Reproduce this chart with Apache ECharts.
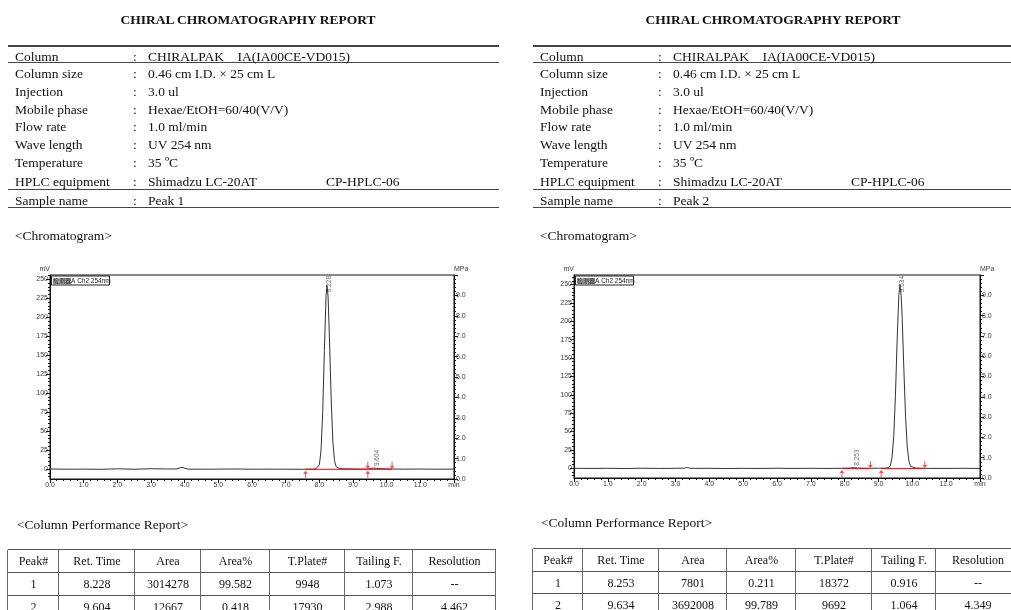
<!DOCTYPE html>
<html><head><meta charset="utf-8">
<script src="https://cdn.jsdelivr.net/npm/echarts@6.0.0/dist/echarts.min.js"></script>
<style>
html,body{margin:0;padding:0;background:#fff;}
#page{position:relative;width:1011px;height:610px;overflow:hidden;font-family:"Liberation Serif","Times New Roman",serif;color:#111;}
#chart{position:absolute;left:0;top:0;width:1011px;height:610px;}
.t{position:absolute;white-space:pre;font-size:13.5px;line-height:16px;}
.title{font-weight:bold;transform:translateX(-50%);}
.hl{position:absolute;height:0;border-top:1.5px solid #444;}
.vl{position:absolute;width:0;border-left:1.5px solid #666;}
.cell{position:absolute;display:flex;align-items:center;justify-content:center;font-size:12px;white-space:pre;}
</style>
</head><body>
<div id="page"><div id="chart"></div></div>
<script>
// ---------- text / table data ----------
const reportTitle = "CHIRAL CHROMATOGRAPHY REPORT";
const infoLabels = ["Column","Column size","Injection","Mobile phase","Flow rate","Wave length","Temperature","HPLC equipment","Sample name"];
const infoValuesLeft = ["CHIRALPAK    IA(IA00CE-VD015)","0.46 cm I.D. \u00d7 25 cm L","3.0 ul","Hexae/EtOH=60/40(V/V)","1.0 ml/min","UV 254 nm","35 \u00baC","Shimadzu LC-20AT","Peak 1"];
const infoValuesRight = ["CHIRALPAK    IA(IA00CE-VD015)","0.46 cm I.D. \u00d7 25 cm L","3.0 ul","Hexae/EtOH=60/40(V/V)","1.0 ml/min","UV 254 nm","35 \u00baC","Shimadzu LC-20AT","Peak 2"];
const equipmentId = "CP-HPLC-06";
const perfHeaders = ["Peak#","Ret. Time","Area","Area%","T.Plate#","Tailing F.","Resolution"];
const perfLeft = [["1","8.228","3014278","99.582","9948","1.073","--"],["2","9.604","12667","0.418","17930","2.988","4.462"]];
const perfRight = [["1","8.253","7801","0.211","18372","0.916","--"],["2","9.634","3692008","99.789","9692","1.064","4.349"]];

// ---------- chromatogram data ----------
const timeTickLabels = ["0.0","1.0","2.0","3.0","4.0","5.0","6.0","7.0","8.0","9.0","10.0","11.0","min"];
const mvTickValues = [0,25,50,75,100,125,150,175,200,225,250];
const mpaTickLabels = ["0.0","1.0","2.0","3.0","4.0","5.0","6.0","7.0","8.0","9.0",""];
const detectorLabel = "A Ch2 254nm";
const detectorPrefix = "检测器";

const traceLeft = [[0,0],[0.5,-0.3],[1.0,-0.2],[1.5,-0.4],[2.0,0.2],[2.5,-0.3],[3.0,0.3],[3.5,0.0],[3.75,0.1],[3.85,1.2],[3.92,2.2],[4.0,1.0],[4.1,-0.2],[4.5,-0.3],[5.0,-0.2],[5.5,0.0],[6.0,-0.3],[6.5,-0.2],[7.0,-0.3],[7.5,-0.4],[7.8,-0.3],[7.9,0.3],[7.95,1.5],[8.0,5.5],[8.05,24],[8.1,74],[8.15,156],[8.2,229],[8.228,242],[8.26,227],[8.3,174],[8.35,95],[8.4,37],[8.45,11],[8.5,3],[8.55,1.2],[8.6,0.6],[8.7,0.3],[8.8,0.1],[9.0,0.0],[9.4,-0.2],[9.5,0.3],[9.55,0.8],[9.604,1.2],[9.65,1.0],[9.7,0.75],[9.8,0.45],[9.9,0.25],[10.0,0.1],[10.5,-0.2],[11.0,-0.1],[11.5,-0.3],[12.0,-0.2]];
const traceRight = [[0,0],[0.5,-0.2],[1.0,0.0],[1.5,-0.3],[2.0,0.1],[2.5,-0.2],[3.0,0.0],[3.25,0.2],[3.33,1.0],[3.42,0.2],[3.6,-0.1],[4.0,0.0],[4.5,-0.3],[5.0,-0.1],[5.5,-0.2],[6.0,0.1],[6.5,-0.2],[7.0,0.0],[7.5,-0.2],[7.9,0.0],[8.15,0.3],[8.2,0.6],[8.253,0.85],[8.3,0.6],[8.4,0.3],[8.6,0.1],[8.8,0.0],[9.0,0.1],[9.2,0.2],[9.3,0.9],[9.35,3.7],[9.4,14.5],[9.45,43],[9.5,98],[9.55,173],[9.6,235],[9.634,250],[9.67,235],[9.7,204],[9.75,134],[9.8,70],[9.85,29],[9.9,9.5],[9.95,2.5],[10.0,0.9],[10.1,0.3],[10.3,0.1],[10.5,-0.1],[11.0,-0.2],[11.5,0.0],[12.0,-0.2]];

const peakRtLeft = [8.228, 9.604];
const peakHeightLeft = [242, 1.2];
const peakRtRight = [8.253, 9.634];
const peakHeightRight = [0.85, 250];

const integStartLeft = [7.59, 9.44];
const integEndLeft = [9.44, 10.16];
const integStartRight = [7.92, 9.08];
const integEndRight = [8.76, 10.37];

// ---------- build HTML text ----------
const page = document.getElementById('page');
function addDiv(cls, css, text){
  const d = document.createElement('div');
  d.className = cls; Object.assign(d.style, css);
  if (text !== undefined) d.textContent = text;
  page.appendChild(d); return d;
}
const rowY = [56.5,74.3,91.7,109.7,127,145,163,181.7,200.5];
const panelsHtml = [
  {off:0, values:infoValuesLeft, perf:perfLeft, cols:[8,59,135,201,270,345,413,496], rows:[550,573,596,619], ptX:17, ptY:525},
  {off:525, values:infoValuesRight, perf:perfRight, cols:[533,583,659,727,796,872,936,1020], rows:[549,572,594,616], ptX:541, ptY:523}
];
panelsHtml.forEach(p => {
  addDiv('t title', {left:(248+p.off)+'px', top:(20-8.5)+'px'}, reportTitle);
  [46,63,190,208].forEach((y,k) => addDiv('hl', {left:(8+p.off)+'px', top:(y-0.75)+'px', width:'491px', borderTopWidth:(k===0?'2px':'1.5px')}));
  infoLabels.forEach((lab,i) => {
    addDiv('t', {left:(15+p.off)+'px', top:(rowY[i]-8)+'px'}, lab);
    addDiv('t', {left:(133+p.off)+'px', top:(rowY[i]-8)+'px'}, ':');
    addDiv('t', {left:(148+p.off)+'px', top:(rowY[i]-8)+'px'}, p.values[i]);
  });
  addDiv('t', {left:(326+p.off)+'px', top:(rowY[7]-8)+'px'}, equipmentId);
  addDiv('t', {left:(15+p.off)+'px', top:(236-8)+'px'}, '<Chromatogram>');
  addDiv('t', {left:p.ptX+'px', top:(p.ptY-8)+'px'}, '<Column Performance Report>');
  // performance table
  const c = p.cols, r = p.rows;
  r.forEach(y => addDiv('hl', {left:c[0]+'px', top:(y-0.75)+'px', width:(c[c.length-1]-c[0])+'px', borderTopColor:'#555'}));
  c.forEach(x => addDiv('vl', {left:(x-0.75)+'px', top:r[0]+'px', height:(r[r.length-1]-r[0])+'px'}));
  const allRows = [perfHeaders].concat(p.perf);
  allRows.forEach((row,ri) => row.forEach((txt,ci) => {
    addDiv('cell', {left:c[ci]+'px', top:r[ri]+'px', width:(c[ci+1]-c[ci])+'px', height:(r[ri+1]-r[ri])+'px'}, txt);
  }));
});

// ---------- chart ----------
const chart = echarts.init(document.getElementById('chart'));
const axisColor = '#111', labColor = '#3a3a3a', sans = 'Liberation Sans';
const grids = [
  {left:50, top:275, width:404, height:204},
  {left:574, top:275, width:406, height:203}
];
const yRanges = [[-13.2,255.7],[-13.2,263]];
const traces = [traceLeft, traceRight];
const peakRts = [peakRtLeft, peakRtRight];
const peakHs = [peakHeightLeft, peakHeightRight];
const iStarts = [integStartLeft, integStartRight];
const iEnds = [integEndLeft, integEndRight];
const mvMinor = [];
for (let v = -10; v <= 260; v += 5) if (v % 25 !== 0) mvMinor.push(v);

const option = {animation:false, backgroundColor:'#fff', grid:[], xAxis:[], yAxis:[], series:[], graphic:[]};
const upArrow = 'path://M5,0 L10,6 L6,6 L6,14 L4,14 L4,6 L0,6 Z';
const downArrow = 'path://M4,0 L6,0 L6,8 L10,8 L5,14 L0,8 L4,8 Z';
grids.forEach((g,i) => {
  option.grid.push(Object.assign({show:true, borderColor:axisColor, borderWidth:1, backgroundColor:'transparent', outerBoundsMode:'none', containLabel:false}, g));
  option.xAxis.push({gridIndex:i, type:'value', min:0, max:12, interval:1, position:'bottom',
    axisLine:{show:true, onZero:false, lineStyle:{color:axisColor, width:1}},
    axisTick:{show:true, length:4, lineStyle:{color:axisColor}},
    minorTick:{show:true, splitNumber:5, length:2, lineStyle:{color:axisColor}},
    axisLabel:{show:true, fontSize:7, color:labColor, fontFamily:sans, margin:3, showMaxLabel:true, showMinLabel:true,
      formatter: v => timeTickLabels[Math.round(v)]},
    splitLine:{show:false}, minorSplitLine:{show:false}});
  const [ymin, ymax] = yRanges[i];
  option.yAxis.push({gridIndex:i, type:'value', min:ymin, max:ymax, position:'left',
    name:'mV', nameLocation:'end', nameGap:2, nameTextStyle:{fontSize:7, color:labColor, fontFamily:sans, align:'right', verticalAlign:'bottom'},
    axisLine:{show:true, onZero:false, lineStyle:{color:axisColor}},
    axisTick:{show:true, length:4, customValues:mvTickValues, lineStyle:{color:axisColor}},
    axisLabel:{show:true, customValues:mvTickValues, fontSize:7, color:labColor, fontFamily:sans, margin:2},
    splitLine:{show:false}});
  option.yAxis.push({gridIndex:i, type:'value', min:ymin, max:ymax, position:'left',
    axisLine:{show:false}, axisTick:{show:true, length:2, customValues:mvMinor, lineStyle:{color:axisColor}},
    axisLabel:{show:false, customValues:mvMinor}, splitLine:{show:false}});
  option.yAxis.push({gridIndex:i, type:'value', min:0, max:10, interval:1, position:'right',
    name:'MPa', nameLocation:'end', nameGap:2, nameTextStyle:{fontSize:7, color:labColor, fontFamily:sans, align:'left', verticalAlign:'bottom'},
    axisLine:{show:true, onZero:false, lineStyle:{color:axisColor}},
    axisTick:{show:true, length:4, lineStyle:{color:axisColor}},
    minorTick:{show:true, splitNumber:5, length:2, lineStyle:{color:axisColor}},
    axisLabel:{show:true, fontSize:7, color:labColor, fontFamily:sans, margin:2, showMaxLabel:true,
      formatter: v => mpaTickLabels[Math.round(v)]},
    splitLine:{show:false}, minorSplitLine:{show:false}});
  const yi = 3*i;
  option.series.push({type:'line', xAxisIndex:i, yAxisIndex:yi, data:traces[i], showSymbol:false, symbol:'none',
    lineStyle:{color:'#333', width:1}, z:3, silent:true});
  iStarts[i].forEach((s,k) => {
    option.series.push({type:'line', xAxisIndex:i, yAxisIndex:yi, data:[[s,-0.4],[iEnds[i][k],-0.4]], symbol:'none',
      lineStyle:{color:'#ff0000', width:1}, z:4, silent:true});
  });
  option.series.push({type:'scatter', xAxisIndex:i, yAxisIndex:yi, data:iStarts[i].map(s=>[s,-0.4]),
    symbol:upArrow, symbolSize:[5,7], symbolOffset:[0,5], itemStyle:{color:'#ff2020'}, z:5, silent:true});
  option.series.push({type:'scatter', xAxisIndex:i, yAxisIndex:yi, data:iEnds[i].map(s=>[s,-0.4]),
    symbol:downArrow, symbolSize:[5,7], symbolOffset:[0,-4], itemStyle:{color:'#ff2020'}, z:5, silent:true});
  option.series.push({type:'scatter', xAxisIndex:i, yAxisIndex:yi, symbolSize:0, z:6, silent:true,
    data: peakRts[i].map((rt,k) => {
      const big = peakHs[i][k] > 0.5*ymax;
      return {value:[rt, big ? ymax : peakHs[i][k]],
        label:{align: big ? 'right' : 'left', offset: big ? [-1, 2.5] : [2, 3.5]}};
    }),
    label:{show:true, position:'inside', rotate:90, verticalAlign:'middle', fontSize:6.5, color:'#444', fontFamily:sans,
      formatter: p => p.value[0].toFixed(3)}});
  option.graphic.push({type:'group', left:g.left+1, top:g.top+0.5, children:[
    {type:'rect', shape:{x:0, y:0, width:58, height:9}, style:{fill:'#fff', stroke:'#222', lineWidth:1}},
    {type:'text', x:1.5, y:1.5, style:{text:'{c|'+detectorPrefix+'}'+detectorLabel, fontSize:6.5, fontFamily:'Liberation Sans', fill:'#222',
      rich:{c:{fontFamily:'Noto Sans CJK SC', fontSize:6, backgroundColor:'#aaa', fill:'#222'}}}}
  ]});
});
chart.setOption(option);
</script>
</body></html>
